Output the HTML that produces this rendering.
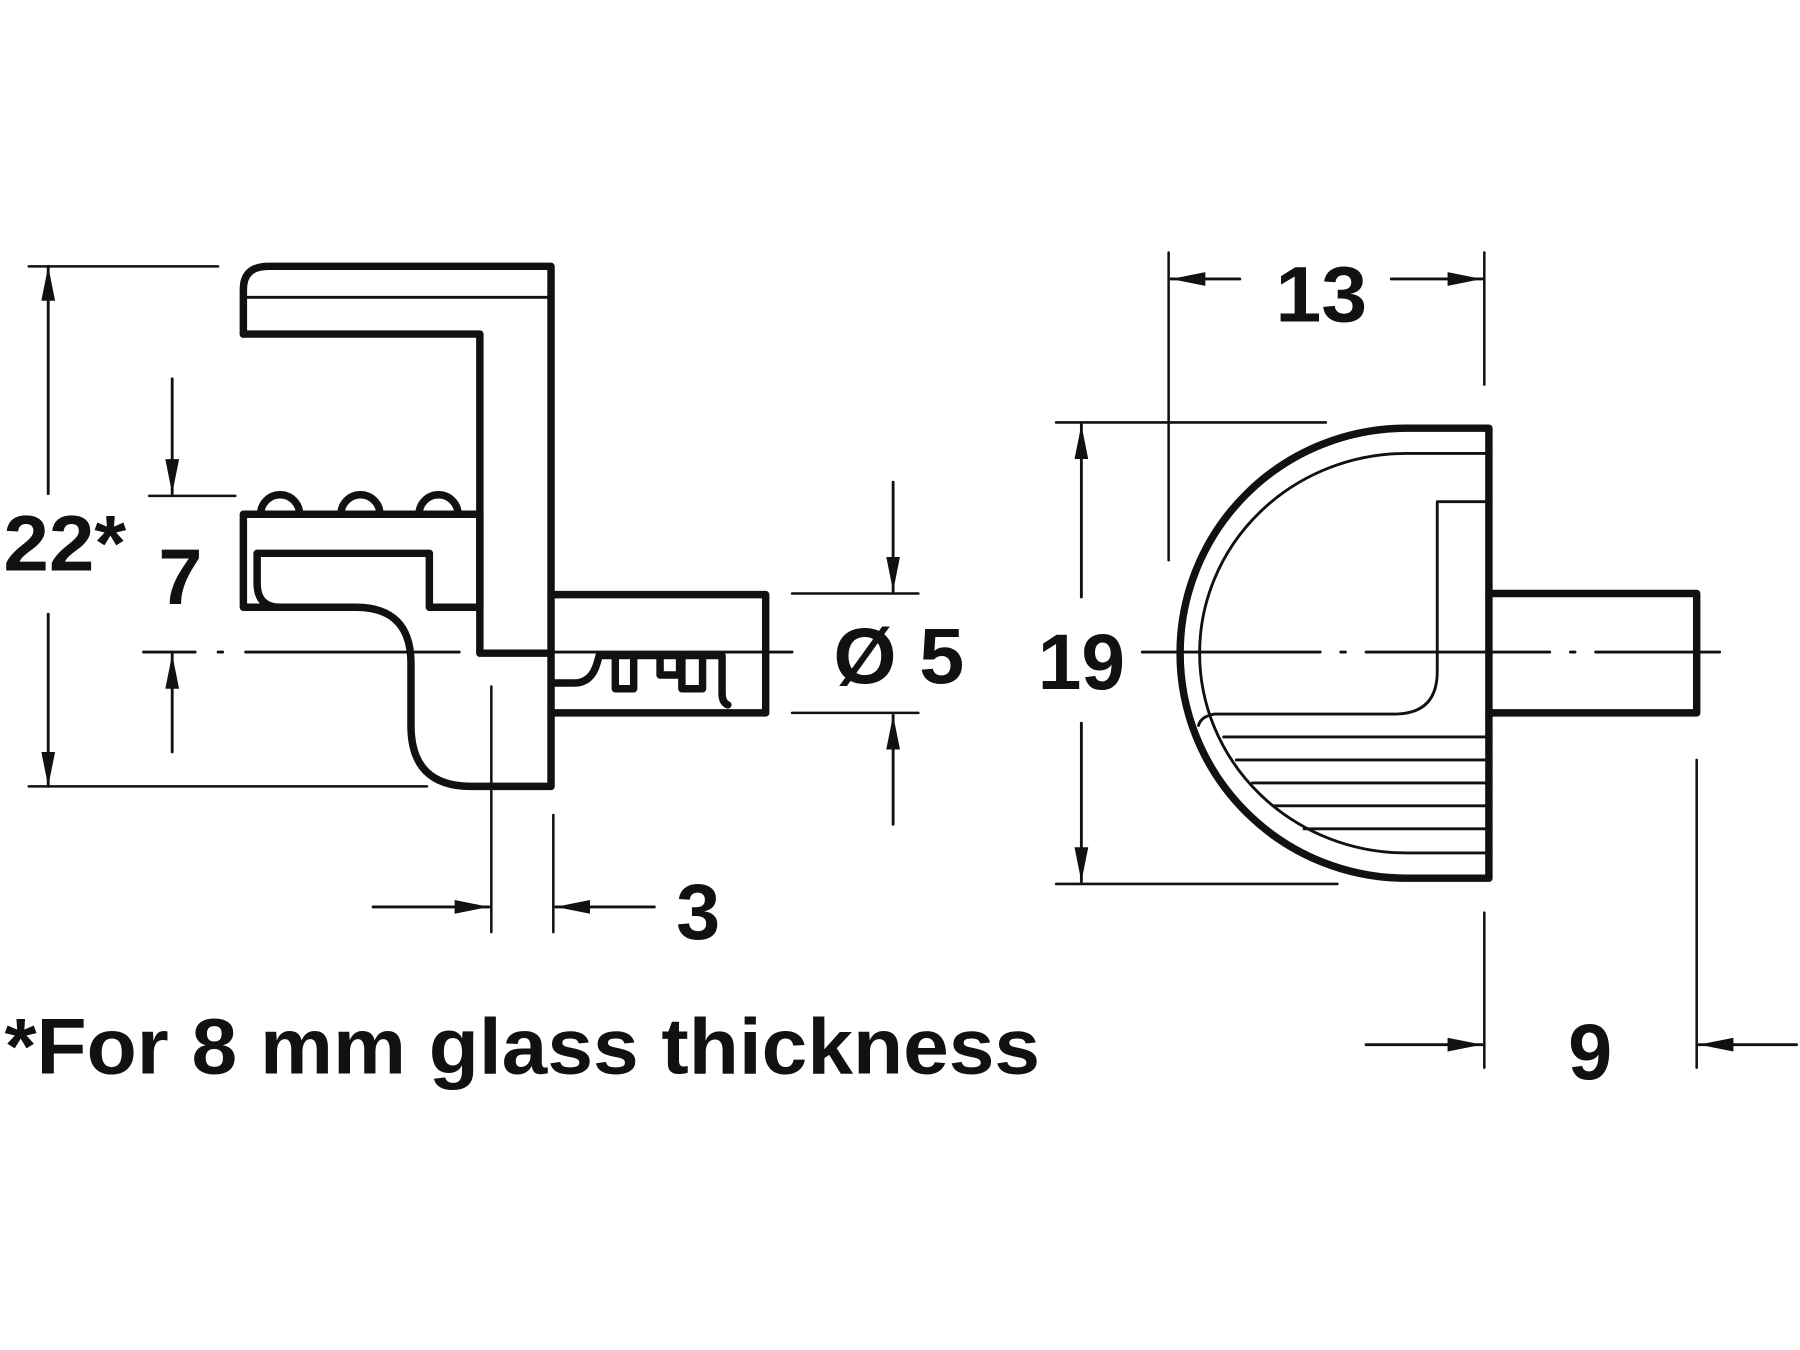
<!DOCTYPE html>
<html><head><style>html,body{margin:0;padding:0;background:#fff}svg{display:block}</style></head>
<body>
<svg width="1800" height="1350" viewBox="0 0 1568 1176" xmlns="http://www.w3.org/2000/svg">
<defs>
<marker id="a" viewBox="0 0 30 12" refX="30" refY="6" markerWidth="30" markerHeight="12" markerUnits="userSpaceOnUse" orient="auto"><path d="M0,0 L30,6 L0,12 z" fill="#111"/></marker>
</defs>
<rect width="1568" height="1176" fill="#fff"/>
<g fill="none" stroke="#111" stroke-linejoin="round" stroke-linecap="round">
<g stroke-width="6.5">
<path d="M212,291 L212,252 Q212,232 234,232 L480,232 L480,685 L410,685 Q358,685 358,632 L358,578 Q358,529 310,529 L212,529 L212,448 L418,448"/>
<path d="M212,291 L418,291 L418,569 L480,569"/>
<path d="M418,448 L418,529 L374,529 L374,482 L224,482 L224,508 Q224,529 244,529"/>
<path d="M227,448 A17,17 0 0 1 261,448 M297,448 A17,17 0 0 1 331,448 M365,448 A17,17 0 0 1 399,448"/>
<path d="M480,518 L667,518 L667,621 L480,621"/>
<path d="M482,595 L500,595 Q515,595 520,578 L522,571 L629,571 L629,604 Q629,612 634,614"/>
<path d="M536,571 L536,600 L552,600 L552,571 M575,571 L575,588 L592,588 L592,571 M594,571 L594,600 L612,600 L612,571"/>
</g>
<path d="M215,259 L478,259" stroke-width="2.5"/>
<path d="M125,568 L170,568 M190,568 L194,568 M214,568 L400,568 M420,568 L424,568 M444,568 L690,568" stroke-width="2.5"/>
<g stroke-width="2.2">
<path d="M25,232 L190,232 M25,685 L372,685"/>
<path d="M130,432 L205,432"/>
<path d="M428,598 L428,812 M482,710 L482,812"/>
<path d="M690,517 L800,517 M690,621 L800,621"/>
</g>
<g stroke-width="2.5">
<path d="M42,430 L42,232" marker-end="url(#a)"/>
<path d="M42,535 L42,685" marker-end="url(#a)"/>
<path d="M150,330 L150,430" marker-end="url(#a)"/>
<path d="M150,655 L150,570" marker-end="url(#a)"/>
<path d="M778,420 L778,515" marker-end="url(#a)"/>
<path d="M778,718 L778,623" marker-end="url(#a)"/>
<path d="M325,790 L426,790" marker-end="url(#a)"/>
<path d="M570,790 L484,790" marker-end="url(#a)"/>
</g>
<g stroke-width="6.5">
<path d="M1297,373 L1297,765 L1225,765 A197,196 0 0 1 1225,373 L1297,373"/>
<path d="M1297,517 L1478,517 L1478,621 L1297,621"/>
</g>
<g stroke-width="2.5">
<path d="M1297,395 L1225,395 A180,174 0 0 0 1225,743 L1297,743"/>
<path d="M1297,437 L1252,437 L1252,585 Q1252,622 1215,622 L1058,622 Q1046,624 1044,632"/>
<path d="M1297,642 L1066,642 M1297,662 L1077,662 M1297,682 L1091,682 M1297,702 L1110,702 M1297,722 L1136,722"/>
</g>
<path d="M995,568 L1150,568 M1168,568 L1172,568 M1190,568 L1350,568 M1368,568 L1372,568 M1390,568 L1498,568" stroke-width="2.5"/>
<g stroke-width="2.2">
<path d="M1018,220 L1018,488 M1293,220 L1293,335"/>
<path d="M920,368 L1155,368 M920,770 L1165,770"/>
<path d="M1293,795 L1293,930 M1478,662 L1478,930"/>
</g>
<g stroke-width="2.5">
<path d="M1080,243 L1020,243" marker-end="url(#a)"/>
<path d="M1212,243 L1291,243" marker-end="url(#a)"/>
<path d="M942,520 L942,370" marker-end="url(#a)"/>
<path d="M942,630 L942,768" marker-end="url(#a)"/>
<path d="M1190,910 L1291,910" marker-end="url(#a)"/>
<path d="M1565,910 L1480,910" marker-end="url(#a)"/>
</g>
</g>
<g font-family="Liberation Sans, Arial, sans-serif" font-weight="bold" font-size="69" fill="#111">
<text x="3" y="497" textLength="107" lengthAdjust="spacingAndGlyphs">22*</text>
<text x="138" y="526">7</text>
<text x="726" y="595" textLength="114" lengthAdjust="spacingAndGlyphs">Ø 5</text>
<text x="589" y="818">3</text>
<text x="1111" y="280" textLength="80" lengthAdjust="spacingAndGlyphs">13</text>
<text x="904" y="600" textLength="76" lengthAdjust="spacingAndGlyphs">19</text>
<text x="1366" y="940">9</text>
<text x="4" y="935" textLength="902" lengthAdjust="spacingAndGlyphs">*For 8 mm glass thickness</text>
</g>
</svg>
</body></html>
